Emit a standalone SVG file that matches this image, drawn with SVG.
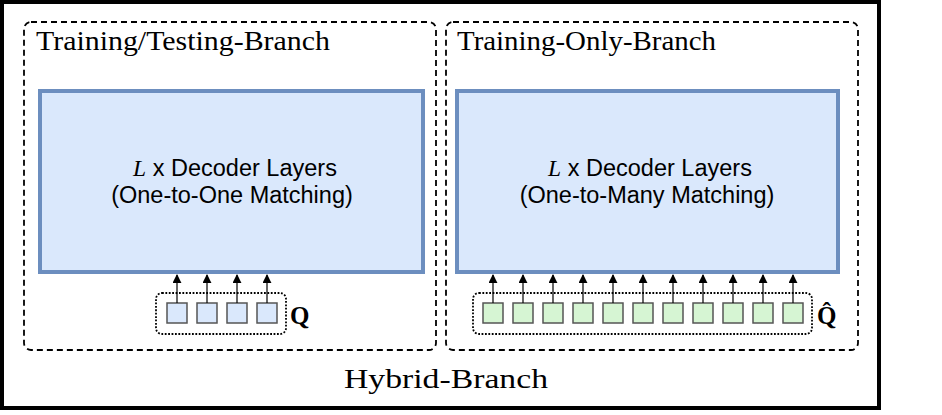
<svg xmlns="http://www.w3.org/2000/svg" width="942" height="415" viewBox="0 0 942 415">
  <defs>
    <style>
      .outer { fill: #ffffff; stroke: #000000; stroke-width: 4; }
      .branch { fill: none; stroke: #000000; stroke-width: 1.8; stroke-dasharray: 6 4; }
      .dec { fill: #dae8fc; stroke: #6c8ebf; stroke-width: 4; }
      .qgroup { fill: none; stroke: #000000; stroke-width: 1.8; stroke-dasharray: 1.8 1.6; }
      .qb { fill: #dae8fc; stroke: #555555; stroke-width: 1.5; }
      .qg { fill: #d6f5d3; stroke: #555555; stroke-width: 1.5; }
      .title { font-family: "Liberation Serif", "DejaVu Serif", serif; font-size: 27px; fill: #000000; }
      .body { font-family: "Liberation Sans", Arial, sans-serif; font-size: 23.5px; fill: #000000; text-anchor: middle; }
      .ital { font-family: "Liberation Serif", serif; font-style: italic; }
      .q { font-family: "Liberation Serif", "DejaVu Serif", serif; font-weight: bold; font-size: 25px; fill: #000000; }
      .arrow { stroke: #000000; stroke-width: 1.2; fill: none; marker-end: url(#ah); }
    </style>
    <marker id="ah" viewBox="0 0 10 10" refX="9" refY="5" markerWidth="9" markerHeight="9" markerUnits="userSpaceOnUse" orient="auto">
      <path d="M0,0 L10,5 L0,10 Z" fill="#000000"/>
    </marker>
  </defs>

  <g id="hybrid-branch">
    <rect class="outer" x="2" y="2" width="877" height="406"/>
    <text class="title" x="344" y="388" textLength="204" lengthAdjust="spacingAndGlyphs">Hybrid-Branch</text>
  </g>

  <g id="training-testing-branch">
    <rect class="branch" x="24" y="22" width="412" height="328" rx="7"/>
    <text class="title" x="36" y="50" textLength="294" lengthAdjust="spacingAndGlyphs">Training/Testing-Branch</text>
  </g>

  <g id="training-only-branch">
    <rect class="branch" x="446" y="22" width="412" height="328" rx="7"/>
    <text class="title" x="457" y="50" textLength="259" lengthAdjust="spacingAndGlyphs">Training-Only-Branch</text>
  </g>

  <g id="decoder-one-to-one">
    <rect class="dec" x="40" y="91" width="383" height="181"/>
    <text class="body" x="235" y="176"><tspan class="ital">L</tspan> x Decoder Layers</text>
    <text class="body" x="232" y="203">(One-to-One Matching)</text>
  </g>

  <g id="decoder-one-to-many">
    <rect class="dec" x="457" y="91" width="381" height="181"/>
    <text class="body" x="650" y="176"><tspan class="ital">L</tspan> x Decoder Layers</text>
    <text class="body" x="647" y="203">(One-to-Many Matching)</text>
  </g>

  <g id="queries-q">
    <rect class="qgroup" x="156" y="293" width="130" height="41" rx="6"/>
    <rect class="qb" x="167" y="303" width="20" height="20"/>
    <rect class="qb" x="197" y="303" width="20" height="20"/>
    <rect class="qb" x="227" y="303" width="20" height="20"/>
    <rect class="qb" x="257" y="303" width="20" height="20"/>
    <text class="q" x="290" y="324">Q</text>
  </g>

  <g id="queries-q-hat">
    <rect class="qgroup" x="473" y="293" width="339" height="41" rx="6"/>
    <rect class="qg" x="483" y="303" width="20" height="20"/>
    <rect class="qg" x="513" y="303" width="20" height="20"/>
    <rect class="qg" x="543" y="303" width="20" height="20"/>
    <rect class="qg" x="573" y="303" width="20" height="20"/>
    <rect class="qg" x="603" y="303" width="20" height="20"/>
    <rect class="qg" x="633" y="303" width="20" height="20"/>
    <rect class="qg" x="663" y="303" width="20" height="20"/>
    <rect class="qg" x="693" y="303" width="20" height="20"/>
    <rect class="qg" x="723" y="303" width="20" height="20"/>
    <rect class="qg" x="753" y="303" width="20" height="20"/>
    <rect class="qg" x="783" y="303" width="20" height="20"/>
    <text class="q" x="817" y="324">Q̂</text>
  </g>

  <g id="connectors">
    <line class="arrow" x1="177" y1="303" x2="177" y2="275"/>
    <line class="arrow" x1="207" y1="303" x2="207" y2="275"/>
    <line class="arrow" x1="237" y1="303" x2="237" y2="275"/>
    <line class="arrow" x1="267" y1="303" x2="267" y2="275"/>
    <line class="arrow" x1="493" y1="303" x2="493" y2="275"/>
    <line class="arrow" x1="523" y1="303" x2="523" y2="275"/>
    <line class="arrow" x1="553" y1="303" x2="553" y2="275"/>
    <line class="arrow" x1="583" y1="303" x2="583" y2="275"/>
    <line class="arrow" x1="613" y1="303" x2="613" y2="275"/>
    <line class="arrow" x1="643" y1="303" x2="643" y2="275"/>
    <line class="arrow" x1="673" y1="303" x2="673" y2="275"/>
    <line class="arrow" x1="703" y1="303" x2="703" y2="275"/>
    <line class="arrow" x1="733" y1="303" x2="733" y2="275"/>
    <line class="arrow" x1="763" y1="303" x2="763" y2="275"/>
    <line class="arrow" x1="793" y1="303" x2="793" y2="275"/>
  </g>
</svg>
